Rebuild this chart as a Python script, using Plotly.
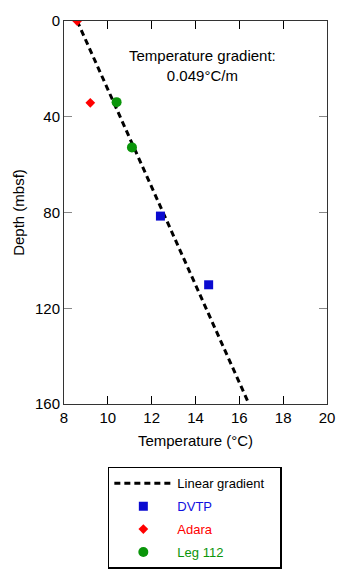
import plotly.graph_objects as go

# Data
line_temp = [8.6, 16.44]
line_depth = [0, 160]

dvtp_temp = [12.4, 14.6]
dvtp_depth = [81.5, 110.2]

adara_temp = [8.6, 9.2]
adara_depth = [0, 34.2]

leg112_temp = [10.4, 11.1]
leg112_depth = [33.9, 52.8]

x_ticks = [8, 10, 12, 14, 16, 18, 20]
y_ticks = [0, 40, 80, 120, 160]

FONT = "Liberation Sans, Arial, Helvetica, sans-serif"
PAD = "\u00a0" * 3

fig = go.Figure()
fig.add_trace(go.Scatter(x=line_temp, y=line_depth, mode="lines",
                         line=dict(color="black", width=3, dash="6px,4px"),
                         name="Linear gradient" + PAD, legendgroup="g1"))
fig.add_trace(go.Scatter(x=dvtp_temp, y=dvtp_depth, mode="markers",
                         marker=dict(symbol="square", size=9, color="#0a0ad0"),
                         name='<span style="color:#1010e0">DVTP</span>', legendgroup="g2"))
fig.add_trace(go.Scatter(x=adara_temp, y=adara_depth, mode="markers",
                         marker=dict(symbol="diamond", size=7.5, color="#ff0000"),
                         name='<span style="color:#ff0000">Adara</span>', legendgroup="g3"))
fig.add_trace(go.Scatter(x=leg112_temp, y=leg112_depth, mode="markers",
                         marker=dict(symbol="circle", size=10, color="#0a950a"),
                         name='<span style="color:#0a950a">Leg 112</span>', legendgroup="g4"))

fig.add_annotation(x=14.3, y=18.5, xref="x", yref="y",
                   text="Temperature gradient:<br>0.049°C/m", showarrow=False,
                   font=dict(family=FONT, size=15, color="black"), align="center")

fig.update_xaxes(range=[8, 20], tickvals=x_ticks, ticks="inside", ticklen=8,
                 tickcolor="black", showline=True, linecolor="#333", linewidth=1,
                 mirror="ticks", showgrid=False, zeroline=False,
                 tickfont=dict(family=FONT, size=15, color="black"),
                 title=dict(text="Temperature (°C)", font=dict(family=FONT, size=15, color="black"),
                            standoff=10))
fig.update_yaxes(range=[160, 0], tickvals=y_ticks, ticks="inside", ticklen=8,
                 tickcolor="#888", showline=True, linecolor="#333", linewidth=1,
                 mirror="ticks", showgrid=False, zeroline=False,
                 tickfont=dict(family=FONT, size=15, color="black"),
                 title=dict(text="Depth (mbsf)", font=dict(family=FONT, size=15, color="black"),
                            standoff=6))

fig.update_layout(
    width=347, height=581,
    margin=dict(l=64, r=19, t=15, b=176),
    plot_bgcolor="white", paper_bgcolor="white",
    legend=dict(x=0.1667, y=-0.164, xanchor="left", yanchor="top",
                bordercolor="black", borderwidth=1.5,
                font=dict(family=FONT, size=13, color="black"),
                itemwidth=58, tracegroupgap=3, bgcolor="white"),
)

fig.write_html("out.html")
